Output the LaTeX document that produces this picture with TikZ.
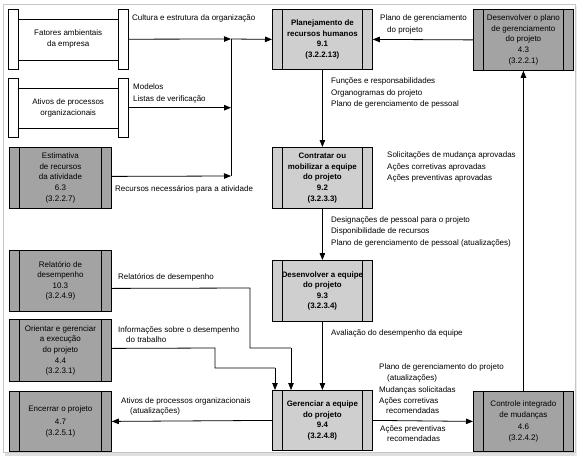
\documentclass[tikz,border=0pt]{standalone}
\usepackage{fontspec}
\setmainfont{Liberation Sans}
\usetikzlibrary{arrows.meta}
\tikzset{
  ln/.style={line width=0.8pt},
  arr/.style={line width=0.8pt, -{Triangle[length=7pt,width=5.5pt]}},
  barred/.style={path picture={
      \draw[line width=0.8pt] ([xshift=10pt]path picture bounding box.north west) -- ([xshift=10pt]path picture bounding box.south west);
      \draw[line width=0.8pt] ([xshift=-10pt]path picture bounding box.north east) -- ([xshift=-10pt]path picture bounding box.south east);}},
  proc/.style={barred, draw, line width=0.8pt, fill=gray!38, minimum width=100pt, minimum height=60pt,
      inner sep=0pt, align=center, anchor=north west, font=\bfseries\fontsize{7.9}{10.6}\selectfont},
  ext/.style={barred, draw, line width=0.8pt, fill=gray!72, minimum width=102pt, minimum height=61pt,
      inner sep=0pt, align=center, anchor=north west, font=\fontsize{8}{10.6}\selectfont},
  docu/.style={minimum width=120pt, minimum height=60pt, inner sep=0pt, align=center,
      anchor=north west, font=\fontsize{8}{10.6}\selectfont},
  lab/.style={inner sep=0pt, anchor=north west, align=left, font=\fontsize{8}{11.5}\selectfont}
}
\begin{document}
\begin{tikzpicture}[x=1pt,y=-1pt]
\useasboundingbox (0,0) rectangle (580,460);
% frame with shadow
\fill[gray!25] (5,452) rectangle (577,456);
\fill[gray!15] (575,6) rectangle (577,456);
\draw[gray!45, line width=0.6pt, fill=white] (3,4) rectangle (575,452);

% document shapes
\node[docu] (fat) at (8,9) {Fatores ambientais\\da empresa};
\node[docu, minimum height=59pt] (ati) at (8,78) {Ativos de processos\\organizacionais};
\foreach \d in {fat,ati}{
  \draw[ln, fill=white] (\d.north west) rectangle ([xshift=10pt]\d.south west);
  \draw[ln, fill=white] ([xshift=-10pt]\d.north east) rectangle (\d.south east);
  \draw[ln] ([xshift=10pt,yshift=-10pt]\d.north west) -- ([xshift=-10pt,yshift=-10pt]\d.north east);
  \draw[ln] ([xshift=10pt,yshift=9pt]\d.south west) -- ([xshift=-10pt,yshift=9pt]\d.south east);
}

% external processes
\node[ext] (est) at (9,147) {Estimativa\\de recursos\\da atividade\\6.3\\(3.2.2.7)};
\node[ext] (rel) at (9,250) {Relatório de\\desempenho\\10.3\\(3.2.4.9)};
\node[ext, minimum height=62pt] (ori) at (9,319) {Orientar e gerenciar\\a execução\\do projeto\\4.4\\(3.2.3.1)};
\node[ext, minimum height=60pt] (enc) at (9,391) {Encerrar o projeto\\[2pt]4.7\\(3.2.5.1)};
\node[ext, minimum width=100pt] (dpl) at (473,9) {Desenvolver o plano\\de gerenciamento\\do projeto\\4.3\\(3.2.2.1)};
\node[ext, minimum width=100pt, minimum height=60pt] (ctr) at (473,391) {Controle integrado\\de mudanças\\[2pt]4.6\\(3.2.4.2)};

% main processes
\node[proc] (pla) at (272,9) {Planejamento de\\recursos humanos\\9.1\\(3.2.2.13)};
\node[proc, minimum height=61pt] (con) at (272,147) {Contratar ou\\mobilizar a equipe\\do projeto\\9.2\\(3.2.3.3)};
\node[proc, minimum height=61pt] (des) at (272,260) {Desenvolver a equipe\\do projeto\\9.3\\(3.2.3.4)};
\node[proc, minimum height=60pt] (ger) at (272,390) {Gerenciar a equipe\\do projeto\\9.4\\(3.2.4.8)};

% junction of inputs
\coordinate (j1) at (231,39);
\coordinate (j3) at (231,176);
\draw[ln] (j1) -- (j3);
\draw[arr] (fat.east) -- (j1);
\draw[arr] (ati.east) -- (ati.east -| j1);
\draw[arr] ([yshift=1.5pt]est.east) -- (j3);
\draw[arr] (j1) -- (pla.west);

\draw[arr] (dpl.west) -- (pla.east);
\draw[arr] (pla.south) -- (con.north);
\draw[arr] (con.south) -- (des.north);
\draw[arr] (des.south) -- (ger.north);
\draw[arr] (ger.east) -- (ctr.west);
\draw[arr] (ctr.north) -- (dpl.south);
\draw[arr] (ger.west) -- (enc.east);

% performance reports
\coordinate (r1) at (250,288);
\coordinate (r2) at (250,348);
\coordinate (r3) at (291,348);
\draw[ln] ([yshift=-7.5pt]rel.east) -- (r1) -- (r2) -- (r3);
\draw[arr] (r3) -- (r3 |- ger.north);
\coordinate (o1) at (215,348);
\coordinate (o2) at (215,368);
\coordinate (o3) at (275,368);
\draw[ln] ([yshift=2pt]ori.east) -- (o1) -- (o2) -- (o3);
\draw[arr] (o3) -- (o3 |- ger.north);

% labels
\node[lab] (l1) at (132,15) {Cultura e estrutura da organização};
\node[lab] (l2) at (133,84) {Modelos\\Listas de verificação};
\node[lab] (l3) at (115,185) {Recursos necessários para a atividade};
\node[lab] (l4) at (380,15) {Plano de gerenciamento\\\hspace*{7pt}do projeto};
\node[lab] (l5) at (331,78) {Funções e responsabilidades\\Organogramas do projeto\\Plano de gerenciamento de pessoal};
\node[lab] (l6) at (387,152) {Solicitações de mudança aprovadas\\Ações corretivas aprovadas\\Ações preventivas aprovadas};
\node[lab] (l7) at (331,216) {Designações de pessoal para o projeto\\Disponibilidade de recursos\\Plano de gerenciamento de pessoal (atualizações)};
\node[lab] (l8) at (331,329) {Avaliação do desempenho da equipe};
\node[lab] (l9) at (379,363) {Plano de gerenciamento do projeto\\\hspace*{8pt}(atualizações)\\Mudanças solicitadas\\[-0.5pt]Ações corretivas\\[-1pt]\hspace*{7pt}recomendadas};
\node[lab] (l10) at (380,425) {Ações preventivas\\[-1pt]\hspace*{7pt}recomendadas};
\node[lab] (l11) at (118,273) {Relatórios de desempenho};
\node[lab] (l12) at (118,326) {Informações sobre o desempenho\\[-1pt]\hspace*{8pt}do trabalho};
\node[lab] (l13) at (121,397) {Ativos de processos organizacionais\\[-1pt]\hspace*{9pt}(atualizações)};
\end{tikzpicture}
\end{document}
